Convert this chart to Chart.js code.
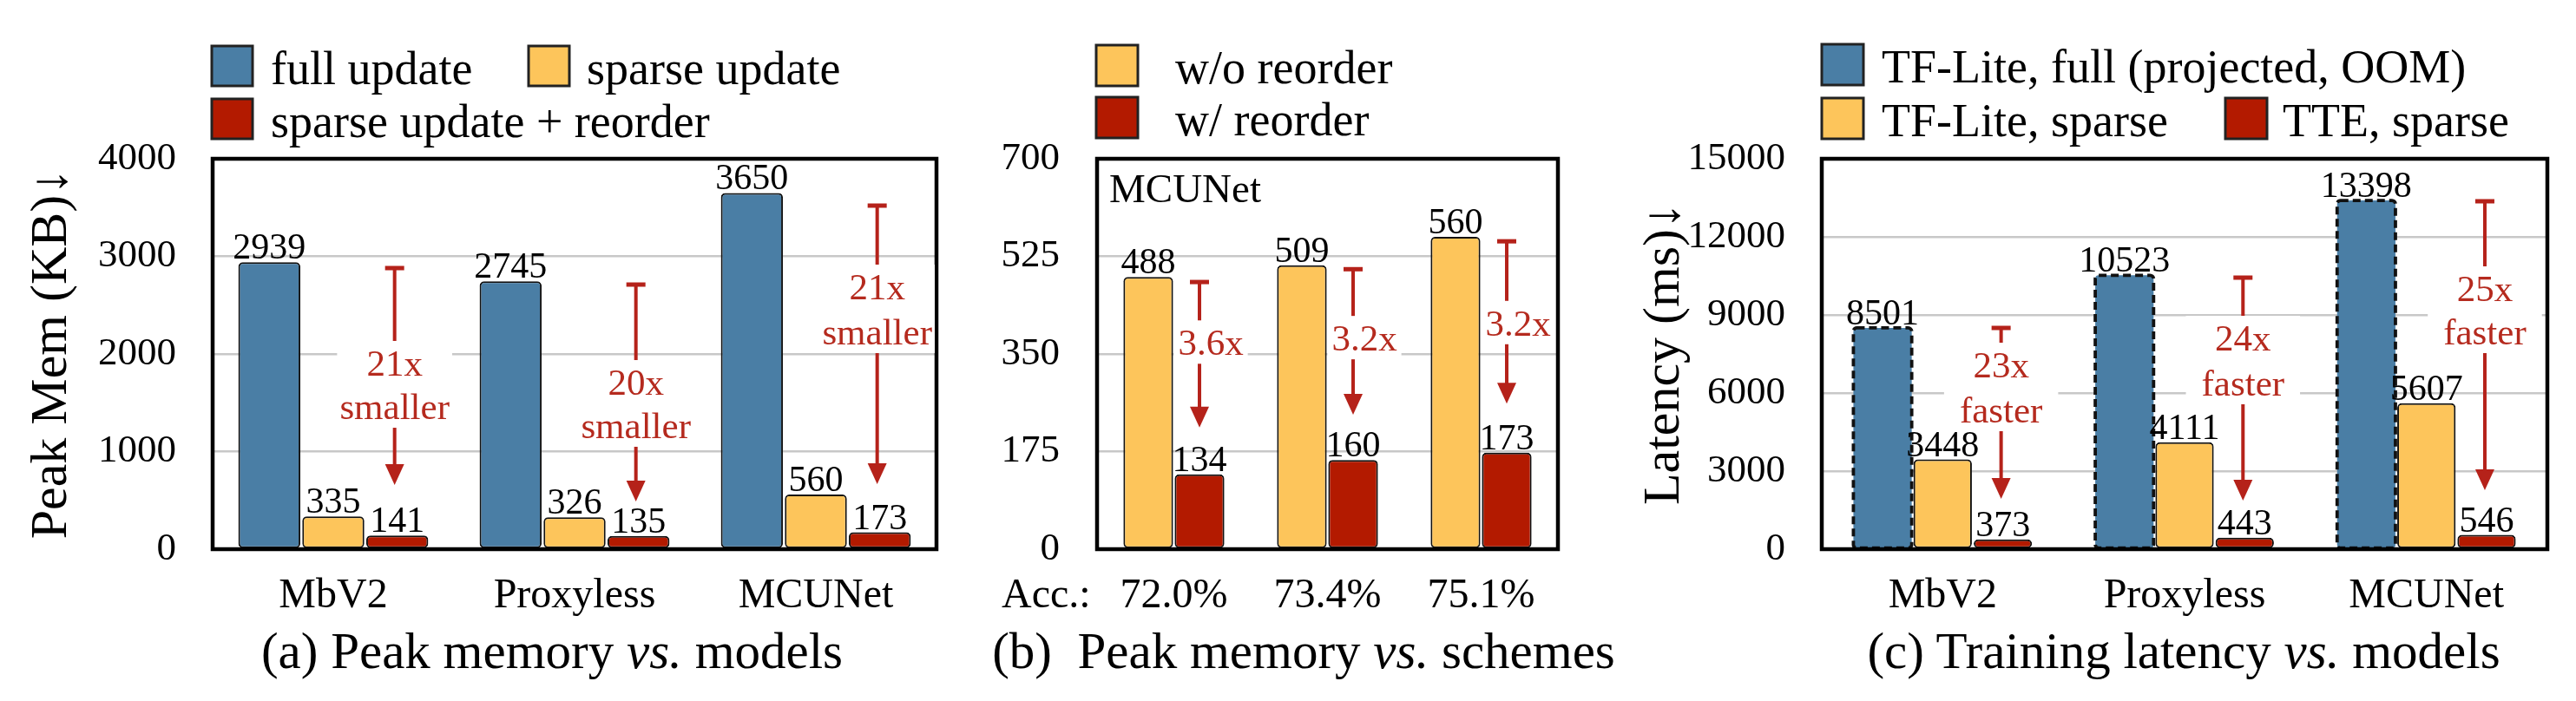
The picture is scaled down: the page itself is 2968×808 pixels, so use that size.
<!DOCTYPE html>
<html><head><meta charset="utf-8">
<script src="https://cdn.jsdelivr.net/npm/chart.js@4.4.1/dist/chart.umd.min.js"></script>
<style>
html,body{margin:0;padding:0;background:#fff;}
body{width:2968px;height:808px;position:relative;overflow:hidden;font-family:"Liberation Serif","Times New Roman",serif;}
canvas{position:absolute;top:0;}
.cap{position:absolute;top:721px;width:1200px;text-align:center;font-size:59px;line-height:59px;color:#000;white-space:pre;}
</style></head><body>
<canvas id="cA" width="1090" height="808" style="left:0px;width:1090px;height:808px"></canvas>
<canvas id="cB" width="720" height="808" style="left:1090px;width:720px;height:808px"></canvas>
<canvas id="cC" width="1098" height="808" style="left:1870px;width:1098px;height:808px"></canvas>
<div class="cap" style="left:36px">(a) Peak memory <i>vs.</i> models</div>
<div class="cap" style="left:902px">(b)  Peak memory <i>vs.</i> schemes</div>
<div class="cap" style="left:1916px">(c) Training latency <i>vs.</i> models</div>
<script>
// ---------------- data ----------------
const modelLabels = ['MbV2', 'Proxyless', 'MCUNet'];
const memFull = [2939, 2745, 3650];
const memSparse = [335, 326, 560];
const memSparseReorder = [141, 135, 173];
const memArrowTop = [2880, 2711, 3520];
const memArrowTip = [658, 489, 667];
const memSavingText = [['21x', 'smaller'], ['20x', 'smaller'], ['21x', 'smaller']];
const memTextBase = [[1778, 1333], [1582, 1138], [2560, 2098]];

const accLabels = ['72.0%', '73.4%', '75.1%'];
const memWithoutReorder = [488, 509, 560];
const memWithReorder = [134, 160, 173];
const reorderArrowTop = [479, 502, 552];
const reorderArrowTip = [218, 241, 261];
const reorderText = [['3.6x'], ['3.2x'], ['3.2x']];
const reorderTextBase = [[348], [356], [383]];

const latTFLiteFull = [8501, 10523, 13398];
const latTFLiteSparse = [3448, 4111, 5607];
const latTTESparse = [373, 443, 546];
const latArrowTop = [8500, 10433, 13367];
const latArrowTip = [1933, 1867, 2267];
const latSpeedText = [['23x', 'faster'], ['24x', 'faster'], ['25x', 'faster']];
const latTextBase = [[6600, 4867], [7633, 5900], [9533, 7867]];

// ---------------- style ----------------
const SERIF = '"Liberation Serif", "Times New Roman", serif';
const BLUE = '#4a7ea5';
const YELLOW = '#fdc55b';
const RED = '#b31a00';
const ARROW_RED = '#b5221a';
const TEXT_RED = '#b52a1e';
const GRID = '#c8c8c8';

const decor = {
  id: 'decor',
  afterDatasetsDraw(chart, args, o) {
    const {ctx, chartArea: ca} = chart;
    const ys = chart.scales.y;
    ctx.save();
    // dashed outlines
    (o.dashed || []).forEach(di => {
      chart.getDatasetMeta(di).data.forEach(bar => {
        const p = bar.getProps(['x', 'y', 'base', 'width'], true);
        ctx.beginPath();
        ctx.roundRect(p.x - p.width / 2, p.y, p.width, p.base - p.y, 4);
        ctx.setLineDash([9, 5]);
        ctx.lineWidth = 3.8;
        ctx.strokeStyle = '#111';
        ctx.stroke();
      });
    });
    ctx.setLineDash([]);
    // frame
    ctx.lineWidth = 4.5;
    ctx.strokeStyle = '#000';
    ctx.strokeRect(ca.left, ca.top, ca.right - ca.left, ca.bottom - ca.top);
    // value labels
    ctx.fillStyle = '#000';
    ctx.font = '42px ' + SERIF;
    ctx.textAlign = 'center';
    ctx.textBaseline = 'alphabetic';
    chart.data.datasets.forEach((ds, di) => {
      chart.getDatasetMeta(di).data.forEach((bar, i) => {
        ctx.fillText(String(ds.data[i]), bar.x, bar.y - 4);
      });
    });
    // annotations
    const a = o.annot;
    if (a) {
      chart.getDatasetMeta(a.ds).data.forEach((bar, i) => {
        const x = bar.x + (a.arrowDx || 0);
        const yTop = ys.getPixelForValue(a.top[i]);
        const yTip = ys.getPixelForValue(a.tip[i]);
        ctx.strokeStyle = ARROW_RED;
        ctx.fillStyle = ARROW_RED;
        ctx.lineWidth = 4;
        ctx.beginPath(); ctx.moveTo(x, yTop); ctx.lineTo(x, yTip - 16); ctx.stroke();
        ctx.lineWidth = 5;
        ctx.beginPath(); ctx.moveTo(x - 11, yTop); ctx.lineTo(x + 11, yTop); ctx.stroke();
        ctx.beginPath(); ctx.moveTo(x, yTip); ctx.lineTo(x - 11, yTip - 24); ctx.lineTo(x + 11, yTip - 24); ctx.closePath(); ctx.fill();
        ctx.font = '43px ' + SERIF;
        const lines = a.text[i];
        const bases = a.base[i].map(v => ys.getPixelForValue(v));
        const tx = x + (a.textDx || 0);
        const w = Math.max(...lines.map(t => ctx.measureText(t).width));
        const top = bases[0] - 40, bot = bases[bases.length - 1] + 10;
        ctx.fillStyle = '#fff';
        ctx.fillRect(tx - w / 2 - a.padX, top, w + 2 * a.padX, bot - top);
        ctx.fillStyle = TEXT_RED;
        ctx.textAlign = 'center';
        lines.forEach((t, k) => ctx.fillText(t, tx, bases[k]));
      });
    }
    // extra texts
    (o.texts || []).forEach(t => {
      ctx.fillStyle = '#000';
      ctx.font = t.size + 'px ' + SERIF;
      ctx.textAlign = 'left';
      ctx.textBaseline = t.baseline;
      ctx.fillText(t.text, ca.left + t.dx, (t.fromBottom ? ca.bottom : ca.top) + t.dy);
    });
    // legend
    const lg = o.legend;
    if (lg) {
      ctx.textBaseline = 'alphabetic';
      ctx.textAlign = 'left';
      ctx.font = '54px ' + SERIF;
      lg.items.forEach(it => {
        const ds = chart.data.datasets[it.ds];
        ctx.fillStyle = ds.backgroundColor;
        ctx.fillRect(it.bx, it.by, lg.w, lg.h);
        ctx.lineWidth = 3;
        ctx.strokeStyle = '#222';
        ctx.strokeRect(it.bx, it.by, lg.w, lg.h);
        ctx.fillStyle = '#000';
        ctx.fillText(ds.label, it.tx, it.by + 44);
      });
    }
    ctx.restore();
  }
};

function yScale(max, step, width, title, titlePad, padding) {
  const s = {
    min: 0, max: max,
    ticks: {stepSize: step, font: {family: SERIF, size: 45}, color: '#000', padding: padding, callback: v => String(v)},
    grid: {color: GRID, lineWidth: 2.5, drawTicks: false},
    border: {display: false},
    afterFit: sc => { sc.width = width; }
  };
  if (title) s.title = {display: true, text: title, font: {family: SERIF, size: 60}, color: '#000', padding: {top: titlePad, bottom: 0}};
  return s;
}
const xScale = {
  grid: {display: false, drawTicks: false},
  border: {display: false},
  ticks: {font: {family: SERIF, size: 48}, color: '#000', padding: 26, maxRotation: 0, autoSkip: false},
  afterFit: sc => { sc.height = 80; }
};
function barOpts(cp) {
  return {categoryPercentage: cp, barPercentage: 0.97, borderColor: '#111', borderWidth: 2, borderRadius: 5, borderSkipped: false};
}

new Chart(document.getElementById('cA'), {
  type: 'bar',
  data: {labels: modelLabels, datasets: [
    {label: 'full update', data: memFull, backgroundColor: BLUE},
    {label: 'sparse update', data: memSparse, backgroundColor: YELLOW},
    {label: 'sparse update + reorder', data: memSparseReorder, backgroundColor: RED}
  ]},
  options: {
    responsive: false, animation: false,
    layout: {padding: {left: 0, top: 183, right: 11, bottom: 95}},
    datasets: {bar: barOpts(0.795)},
    scales: {x: xScale, y: yScale(4000, 1000, 245, 'Peak Mem (KB)↓', 24, 42)},
    plugins: {
      legend: {display: false}, tooltip: {enabled: false},
      decor: {
        annot: {ds: 2, top: memArrowTop, tip: memArrowTip, text: memSavingText, base: memTextBase, padX: 3, arrowDx: -3, textDx: 0},
        legend: {w: 47, h: 46, items: [{ds: 0, bx: 244, by: 53, tx: 312}, {ds: 1, bx: 609, by: 53, tx: 676}, {ds: 2, bx: 244, by: 114, tx: 312}]}
      }
    }
  },
  plugins: [decor]
});

new Chart(document.getElementById('cB'), {
  type: 'bar',
  data: {labels: accLabels, datasets: [
    {label: 'w/o reorder', data: memWithoutReorder, backgroundColor: YELLOW},
    {label: 'w/ reorder', data: memWithReorder, backgroundColor: RED}
  ]},
  options: {
    responsive: false, animation: false,
    layout: {padding: {left: 0, top: 183, right: 15, bottom: 95}},
    datasets: {bar: barOpts(0.667)},
    scales: {x: xScale, y: yScale(700, 175, 174, null, 0, 43)},
    plugins: {
      legend: {display: false}, tooltip: {enabled: false},
      decor: {
        annot: {ds: 1, top: reorderArrowTop, tip: reorderArrowTip, text: reorderText, base: reorderTextBase, padX: 5, arrowDx: 0, textDx: 13},
        texts: [
          {text: 'MCUNet', size: 47, dx: 14, dy: 50, baseline: 'alphabetic', fromBottom: false},
          {text: 'Acc.:', size: 48, dx: -110, dy: 54.8, baseline: 'middle', fromBottom: true}
        ],
        legend: {w: 48, h: 47, items: [{ds: 0, bx: 173, by: 52, tx: 264}, {ds: 1, bx: 173, by: 112, tx: 264}]}
      }
    }
  },
  plugins: [decor]
});

new Chart(document.getElementById('cC'), {
  type: 'bar',
  data: {labels: modelLabels, datasets: [
    {label: 'TF-Lite, full (projected, OOM)', data: latTFLiteFull, backgroundColor: BLUE, borderWidth: 0, borderRadius: 4},
    {label: 'TF-Lite, sparse', data: latTFLiteSparse, backgroundColor: YELLOW},
    {label: 'TTE, sparse', data: latTTESparse, backgroundColor: RED}
  ]},
  options: {
    responsive: false, animation: false,
    layout: {padding: {left: 0, top: 183, right: 33, bottom: 95}},
    datasets: {bar: barOpts(0.746)},
    scales: {x: xScale, y: yScale(15000, 3000, 229, 'Latency (ms)↓', 12, 42)},
    plugins: {
      legend: {display: false}, tooltip: {enabled: false},
      decor: {
        dashed: [0],
        annot: {ds: 2, top: latArrowTop, tip: latArrowTip, text: latSpeedText, base: latTextBase, padX: 18, arrowDx: -2, textDx: 0},
        legend: {w: 48, h: 47, items: [{ds: 0, bx: 229, by: 51, tx: 298}, {ds: 1, bx: 229, by: 113, tx: 298}, {ds: 2, bx: 694, by: 113, tx: 760}]}
      }
    }
  },
  plugins: [decor]
});
</script>
</body></html>
